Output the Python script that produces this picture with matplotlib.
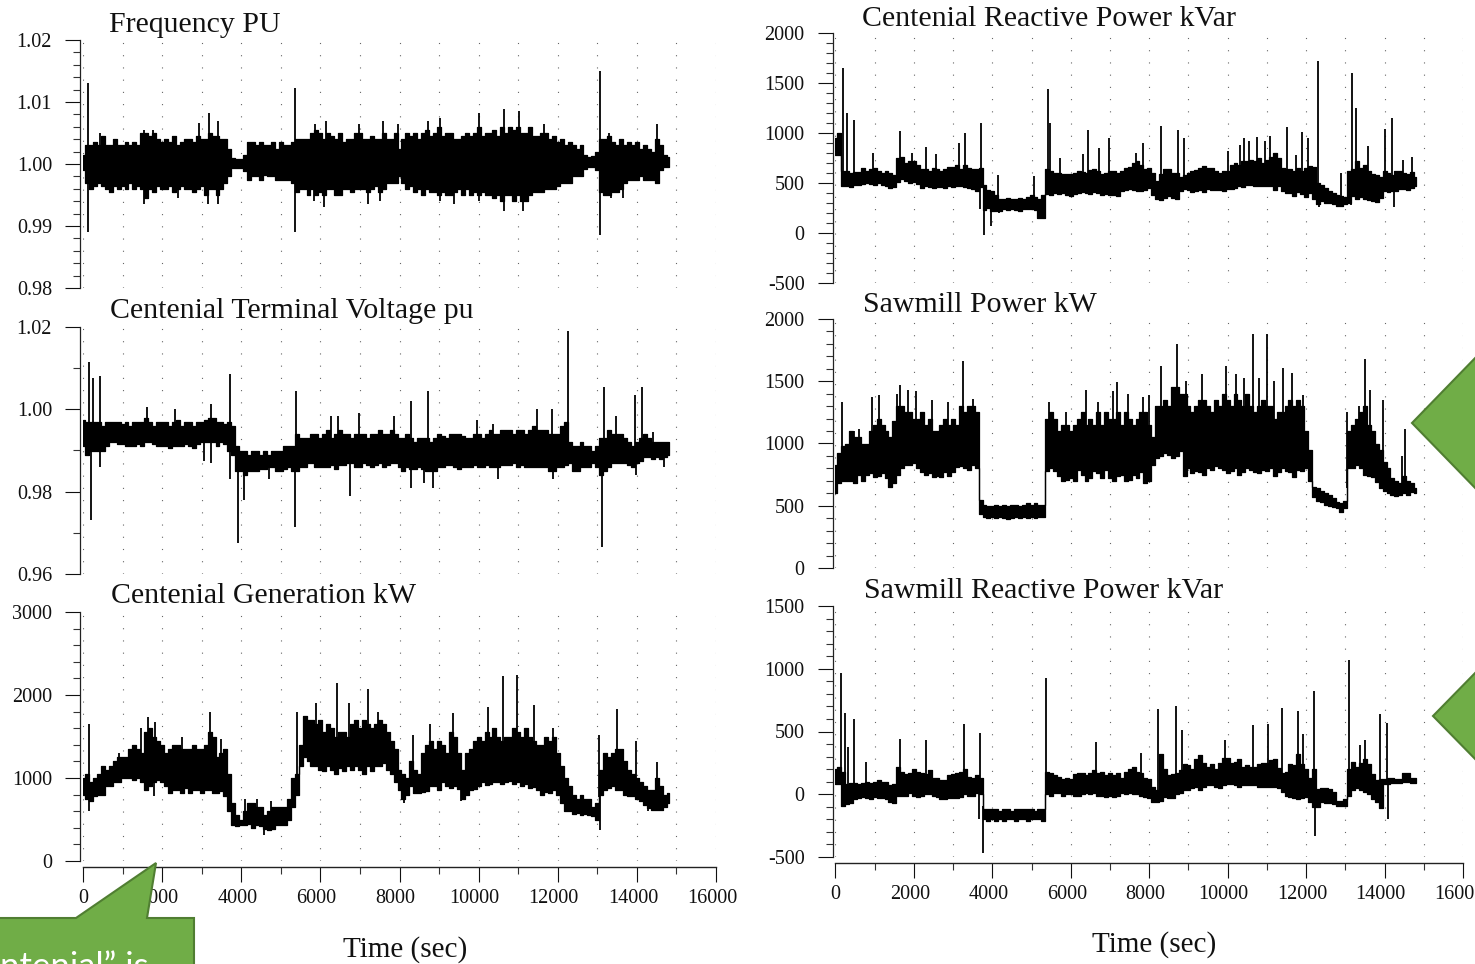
"""Six-panel field recording: frequency, voltage, power traces over time, with slide callouts on top."""
import numpy as np
import matplotlib
matplotlib.use("Agg")
import matplotlib.pyplot as plt
from matplotlib.patches import Polygon
from matplotlib.ticker import MultipleLocator
from matplotlib.transforms import Affine2D, ScaledTranslation

plt.rcParams["font.family"] = ["Liberation Serif", "DejaVu Serif"]

W, H = 1475, 964
INK = "#111111"
GREEN = "#70AD47"; GREEN_EDGE = "#507E32"
SAMPLE_STEP = 100  # band edges below are read every 100 s, ten to a row

# ---- Frequency PU, band edges as thousandths away from 1.00
freq_hi_milli = [1.5, 3, 3, 3.5, 3, 4.5, 3, 3, 4, 3,
                 3, 3.5, 3, 3.5, 3, 5, 5, 4.5, 5, 4,
                 3.5, 4, 3.5, 4.5, 3, 3.5, 4, 4, 3.5, 4.5,
                 4, 4, 5, 4.5, 4.5, 4, 4, 2.5, 1, 0.8,
                 0.8, 1.5, 3.5, 3.5, 3, 3.5, 3, 3, 3.5, 2.5,
                 3.5, 3, 3, 3.5, 4, 4, 4, 4, 5, 5.5,
                 5, 4, 5, 4.5, 4, 5, 3.5, 4, 4, 5,
                 5, 4, 4, 4.5, 4, 4, 5, 4, 4, 5,
                 2.5, 4, 5, 4.5, 5, 4, 5, 5.5, 4.5, 5,
                 6, 4.5, 5, 5, 4, 4, 4.5, 5, 4.5, 5,
                 6, 4.5, 5, 5, 5.5, 4.5, 6, 5, 6, 5.5,
                 6, 5, 5, 6, 4.5, 4.5, 5, 5, 4, 4.5,
                 3.5, 4, 3, 3.5, 3, 2.5, 3, 1.5, 1.2, 1.3,
                 2, 4, 4, 4.5, 3.5, 3, 4, 3, 3.5, 3,
                 3.5, 2.5, 3, 2.5, 2, 4, 3, 1.5, 1.2]
freq_lo_milli = [-1, -3, -4, -3.5, -3, -3.5, -4, -4.5, -3.5, -4,
                 -3.5, -4, -3, -4, -3.5, -4, -5.5, -4, -4.5, -3.5,
                 -4, -4, -3.5, -4.5, -4, -3.5, -4, -4, -4.5, -4,
                 -3.5, -5, -4, -4, -5, -4, -3, -2, -0.7, -0.6,
                 -0.6, -1.2, -2.5, -2, -2, -2.5, -1.8, -2, -2, -2.5,
                 -2.5, -2.5, -2.5, -3, -4.5, -4, -4, -5, -4, -5,
                 -4.5, -5, -4, -4, -5, -5, -4, -4, -4.5, -4,
                 -4, -4, -4.5, -4, -3.5, -4.5, -4, -3, -3, -3,
                 -2, -3, -4, -3.5, -4.5, -4, -5, -4, -4.5, -4.5,
                 -5, -4.5, -5, -5, -4.5, -4, -5, -4, -5, -4.5,
                 -5, -4.5, -5, -5, -5.5, -5, -6, -5, -5, -6,
                 -5, -6, -6, -5, -4.5, -4.5, -4.5, -4, -4, -4,
                 -3.5, -3, -3, -3, -2, -2, -2, -0.8, -0.5, -0.5,
                 -1, -4.5, -5, -5, -4.5, -4.5, -4, -3, -2.5, -2.5,
                 -2.5, -2, -2.5, -2.5, -2.5, -3, -1, -0.5, -0.5]
freq_up_t = [130, 420, 1530, 1770, 2930, 3190, 3400, 5370, 5860, 6150, 6970, 7590, 7960, 8720, 9020, 10000, 10650, 11030, 11650, 13060, 13300, 14500]
freq_up_v = [1.013, 1.005, 1.0055, 1.0055, 1.0066, 1.0083, 1.007, 1.0122, 1.0065, 1.007, 1.0065, 1.007, 1.0065, 1.007, 1.0075, 1.0082, 1.0088, 1.0085, 1.0065, 1.015, 1.005, 1.0065]
freq_dn_t = [130, 1530, 2400, 3170, 3400, 5370, 5850, 6100, 7200, 7500, 9020, 9370, 10010, 10650, 11120, 13060, 13350, 13640]
freq_dn_v = [0.989, 0.9935, 0.9945, 0.9935, 0.9935, 0.989, 0.994, 0.993, 0.9935, 0.994, 0.994, 0.9935, 0.994, 0.9925, 0.9925, 0.9885, 0.9945, 0.9945]

# ---- Centenial Terminal Voltage pu, thousandths away from 1.00
volt_hi_milli = [-2.5, -3, -3, -3, -3, -4, -3, -3, -3, -3,
                 -3.5, -3, -4, -3, -3, -3, -2, -3, -4, -3,
                 -3, -3, -4, -3, -2.5, -4, -3, -3, -4, -3,
                 -3, -2.5, -2, -2, -3, -3, -3.5, -3, -4, -9,
                 -10, -10, -11, -10, -10, -11, -10, -11, -10, -10,
                 -10, -9, -9, -9, -6, -7, -7, -7, -6, -6,
                 -7, -6, -5, -7, -6, -5, -6, -6, -7, -6,
                 -6, -6, -7, -6, -6, -5, -6, -6, -5, -6,
                 -7, -7, -6, -7, -8, -7, -7, -7, -8, -7,
                 -6, -6.5, -7, -6, -6, -6, -6.5, -7, -7, -6,
                 -6, -7, -6, -5, -6, -6, -5, -5, -5, -6,
                 -5, -5, -6, -5, -4, -5, -5, -5, -6, -6,
                 -6, -4, -3, -8, -9, -9, -8, -9, -9, -10,
                 -9, -7, -7, -5, -6, -6, -6, -7, -8, -9,
                 -8, -7, -6, -7, -8, -8, -8, -8, -8]
volt_lo_milli = [-9, -11, -10, -10, -10, -10, -9, -8, -8, -8.5,
                 -8.5, -9, -9, -9, -8.5, -9, -8, -8, -8.5, -9,
                 -9, -9, -9.5, -9, -9, -9, -8.5, -9, -9.5, -8.5,
                 -8, -8, -8, -8, -9, -8, -8.5, -10, -11, -15,
                 -15, -16, -15, -15, -15, -14.5, -14.5, -14, -14, -15,
                 -15, -14.5, -14, -15, -15, -14, -14, -13, -13, -14,
                 -14, -14, -14, -13.5, -14.5, -13.5, -13.5, -13, -13, -14,
                 -14, -13, -13.5, -14, -13.5, -13, -14, -13.5, -13, -13,
                 -14, -15, -14, -14.5, -14.5, -14, -14.5, -15, -15, -15,
                 -14, -14, -13.5, -13.5, -14, -14.5, -14, -14, -14, -13.5,
                 -14, -14, -13.5, -14, -14, -14, -13.5, -13.5, -13.5, -13,
                 -14, -13.5, -14, -14, -14, -14, -14, -14, -15, -15,
                 -14, -14, -13.5, -13, -15, -15, -14, -14, -14, -13,
                 -14, -16, -15, -14, -13, -13, -13, -13, -13.5, -14,
                 -13, -12.5, -11.5, -11.5, -12, -11.5, -12, -11.5, -11]
volt_up_t = [160, 250, 440, 1630, 2330, 3230, 3720, 5390, 6270, 6440, 6970, 7850, 8290, 8720, 9950, 10360, 11470, 11850, 12260, 13170, 13460, 13950, 14140, 14400]
volt_up_v = [1.0115, 1.0075, 1.008, 1.0005, 1.0, 1.0012, 1.0085, 1.0045, 0.9985, 0.9985, 0.999, 0.9985, 1.002, 1.0045, 0.9975, 0.9965, 1.0, 1.0, 1.019, 1.0055, 0.9985, 1.0035, 1.0055, 0.9945]
volt_dn_t = [190, 420, 3050, 3230, 3720, 3930, 4070, 4690, 5360, 6740, 8290, 8610, 8840, 10500, 11880, 13110, 13990, 14690]
volt_dn_v = [0.973, 0.986, 0.9875, 0.987, 0.983, 0.9675, 0.978, 0.983, 0.9715, 0.979, 0.981, 0.982, 0.981, 0.983, 0.983, 0.9665, 0.984, 0.986]

# ---- Centenial Generation kW
gen_hi = [1000, 1050, 950, 1000, 1050, 1150, 1100, 1150, 1200, 1250,
          1250, 1250, 1350, 1400, 1350, 1300, 1550, 1600, 1500, 1450,
          1400, 1300, 1350, 1400, 1400, 1350, 1350, 1350, 1400, 1350,
          1350, 1400, 1550, 1500, 1250, 1300, 1350, 1050, 700, 550,
          500, 600, 700, 700, 650, 650, 550, 600, 650, 650,
          650, 650, 750, 1000, 1050, 1400, 1750, 1700, 1700, 1650,
          1700, 1550, 1650, 1600, 1500, 1550, 1550, 1500, 1650, 1700,
          1600, 1700, 1650, 1600, 1650, 1700, 1650, 1550, 1450, 1350,
          1100, 1050, 1000, 1200, 1100, 1050, 1300, 1400, 1450, 1350,
          1450, 1400, 1300, 1550, 1500, 1300, 1100, 1300, 1350, 1450,
          1500, 1450, 1550, 1500, 1600, 1500, 1450, 1500, 1500, 1600,
          1550, 1500, 1600, 1500, 1450, 1400, 1400, 1500, 1450, 1500,
          1300, 1150, 1000, 900, 800, 750, 800, 750, 750, 650,
          700, 1100, 1300, 1250, 1300, 1350, 1350, 1200, 1100, 1050,
          1000, 950, 900, 850, 850, 1000, 900, 800, 820]
gen_lo = [800, 750, 720, 780, 800, 800, 900, 900, 950, 950,
          1000, 1000, 1000, 980, 1000, 950, 850, 900, 950, 980,
          950, 900, 820, 850, 850, 820, 880, 820, 850, 860,
          820, 850, 860, 820, 820, 840, 780, 600, 430, 420,
          430, 430, 450, 400, 430, 420, 380, 370, 390, 430,
          430, 430, 500, 650, 800, 1150, 1250, 1200, 1150, 1150,
          1100, 1080, 1150, 1100, 1050, 1120, 1080, 1150, 1100, 1150,
          1100, 1050, 1150, 1080, 1150, 1150, 1180, 1100, 1050, 950,
          850, 750, 800, 900, 820, 820, 830, 840, 900, 900,
          860, 950, 900, 880, 900, 870, 750, 800, 850, 870,
          900, 950, 920, 930, 950, 950, 930, 950, 960, 930,
          950, 900, 930, 880, 890, 850, 800, 830, 820, 850,
          800, 700, 600, 600, 570, 580, 560, 570, 560, 540,
          500, 800, 850, 880, 900, 850, 850, 800, 780, 780,
          750, 720, 680, 640, 620, 620, 620, 650, 700]
gen_up_t = [155, 910, 1470, 1650, 1830, 2490, 3200, 3500, 4100, 4400, 4760, 5420, 5900, 6410, 6730, 7210, 7450, 8350, 8770, 9340, 10240, 10620, 10980, 11400, 11880, 13050, 13490, 13970, 14510]
gen_up_v = [1650, 1300, 1600, 1730, 1680, 1500, 1800, 1470, 750, 750, 720, 1800, 1900, 2150, 1900, 2070, 1800, 1520, 1650, 1780, 1850, 2230, 2240, 1880, 1600, 1520, 1830, 1450, 1190]
gen_dn_t = [155, 1800, 4580, 8110, 9550, 13070, 14270]
gen_dn_v = [600, 780, 310, 700, 720, 370, 600]

# ---- Centenial Reactive Power kVar
crp_hi = [950, 1000, 620, 620, 600, 610, 610, 650, 620, 640,
          650, 620, 600, 620, 600, 580, 750, 760, 700, 720,
          720, 680, 640, 640, 620, 650, 640, 620, 640, 660,
          660, 680, 640, 680, 650, 640, 640, 650, 480, 430,
          420, 380, 340, 340, 350, 340, 340, 350, 340, 360,
          380, 360, 340, 380, 640, 620, 600, 600, 590, 590,
          590, 600, 620, 610, 600, 630, 640, 620, 590, 600,
          620, 620, 600, 620, 650, 660, 700, 720, 680, 640,
          650, 600, 520, 590, 640, 640, 600, 600, 560, 580,
          600, 620, 630, 650, 670, 650, 650, 620, 600, 620,
          620, 680, 700, 680, 720, 720, 730, 720, 750, 700,
          730, 760, 800, 750, 650, 640, 640, 620, 650, 620,
          650, 670, 660, 500, 480, 450, 420, 400, 380, 370,
          360, 620, 640, 720, 650, 680, 620, 590, 580, 560,
          620, 600, 580, 620, 620, 600, 590, 610, 560]
crp_lo = [780, 780, 470, 470, 460, 480, 480, 490, 500, 490,
          480, 500, 480, 470, 450, 460, 510, 540, 520, 500,
          510, 490, 450, 470, 460, 450, 460, 460, 450, 470,
          460, 470, 470, 460, 450, 440, 420, 460, 230, 250,
          220, 220, 220, 240, 230, 240, 230, 220, 240, 240,
          240, 230, 150, 150, 390, 380, 400, 390, 400, 380,
          370, 390, 400, 410, 400, 390, 410, 400, 380, 390,
          380, 380, 370, 420, 430, 440, 430, 420, 420, 430,
          450, 380, 340, 330, 350, 370, 350, 340, 420, 440,
          430, 410, 420, 430, 410, 440, 430, 430, 430, 420,
          440, 440, 450, 470, 460, 480, 480, 470, 470, 470,
          470, 470, 430, 470, 420, 400, 400, 370, 410, 390,
          360, 400, 340, 290, 320, 300, 300, 290, 270, 270,
          290, 300, 370, 340, 360, 340, 330, 320, 310, 350,
          420, 410, 420, 420, 440, 440, 430, 450, 470]
crp_up_t = [180, 300, 480, 950, 1640, 1960, 2300, 2560, 3150, 3290, 3720, 4150, 5050, 5410, 5480, 5730, 6300, 6440, 6720, 6980, 7670, 7850, 8300, 8740, 8890, 10010, 10320, 10420, 10550, 10740, 10940, 11090, 11500, 11750, 11890, 12050, 12310, 12880, 13170, 13280, 13590, 14010, 14190, 14470, 14700]
crp_up_v = [1650, 1200, 1130, 800, 1020, 800, 860, 790, 900, 1000, 1100, 580, 570, 1440, 1100, 750, 790, 1030, 850, 950, 800, 900, 1070, 1030, 950, 820, 880, 950, 920, 960, 920, 970, 1060, 780, 1010, 950, 1720, 600, 1600, 1250, 870, 1040, 1150, 730, 760]
crp_dn_t = [3690, 3780, 3960, 4160, 12250, 12330, 13150, 14250]
crp_dn_v = [240, -20, 70, 200, 350, 260, 280, 260]

# ---- Sawmill Power kW
saw_hi = [830, 920, 980, 1000, 1100, 1050, 1050, 1000, 1000, 1100,
          1150, 1200, 1150, 1100, 1050, 1180, 1300, 1300, 1250, 1250,
          1200, 1200, 1250, 1150, 1200, 1100, 1100, 1150, 1200, 1150,
          1200, 1150, 1300, 1250, 1300, 1300, 1250, 550, 510, 500,
          500, 510, 500, 510, 500, 510, 510, 500, 510, 520,
          510, 520, 510, 510, 1200, 1250, 1200, 1100, 1150, 1150,
          1100, 1150, 1200, 1250, 1150, 1200, 1150, 1250, 1150, 1250,
          1200, 1200, 1250, 1150, 1250, 1200, 1150, 1200, 1250, 1250,
          1150, 1050, 1300, 1300, 1350, 1300, 1450, 1450, 1400, 1400,
          1300, 1250, 1300, 1350, 1350, 1300, 1250, 1350, 1300, 1400,
          1350, 1300, 1400, 1350, 1300, 1400, 1300, 1250, 1300, 1350,
          1300, 1300, 1200, 1250, 1250, 1300, 1350, 1300, 1350, 1300,
          1100, 950, 650, 640, 620, 600, 590, 560, 530, 520,
          540, 1100, 1150, 1200, 1250, 1300, 1150, 1100, 1000, 950,
          850, 800, 720, 700, 680, 740, 700, 680, 640]
saw_lo = [600, 680, 700, 700, 700, 680, 750, 700, 750, 760,
          730, 740, 760, 720, 650, 680, 750, 800, 830, 830,
          840, 800, 770, 750, 760, 730, 740, 730, 770, 740,
          770, 810, 820, 800, 790, 830, 800, 430, 410, 400,
          410, 400, 410, 400, 390, 400, 410, 400, 410, 400,
          410, 400, 410, 410, 780, 800, 780, 740, 700, 710,
          720, 700, 790, 750, 700, 720, 780, 760, 720, 790,
          720, 700, 740, 750, 700, 710, 750, 720, 770, 680,
          700, 830, 880, 900, 920, 910, 880, 900, 940, 740,
          800, 760, 780, 770, 750, 800, 790, 820, 800, 790,
          760, 780, 800, 750, 770, 800, 790, 770, 760, 790,
          780, 800, 740, 770, 800, 780, 770, 730, 790, 780,
          800, 700, 570, 540, 530, 510, 500, 490, 480, 450,
          480, 800, 800, 830, 800, 750, 740, 730, 690, 640,
          620, 600, 590, 580, 590, 600, 590, 610, 600]
saw_up_t = [165, 460, 610, 930, 1120, 1560, 1640, 1850, 2060, 2460, 2880, 3240, 3500, 5450, 5880, 6390, 6690, 7080, 7190, 7450, 7840, 8000, 8310, 8710, 8930, 9340, 9950, 10200, 10420, 10640, 10810, 10990, 11170, 11400, 11640, 11930, 13030, 13350, 13500, 13640, 13960, 14450, 14530]
saw_up_v = [1330, 1100, 1120, 1370, 1390, 1400, 1470, 1430, 1420, 1350, 1330, 1660, 1360, 1330, 1250, 1430, 1330, 1420, 1490, 1400, 1370, 1390, 1620, 1800, 1500, 1560, 1620, 1560, 1530, 1880, 1530, 1880, 1500, 1610, 1570, 1390, 1250, 1300, 1680, 1430, 1350, 900, 1120]

# ---- Sawmill Reactive Power kVar
srp_hi = [200, 220, 180, 80, 90, 90, 80, 90, 100, 90,
          100, 110, 100, 100, 70, 80, 220, 180, 160, 170,
          200, 180, 170, 160, 190, 130, 130, 110, 110, 150,
          160, 170, 180, 200, 140, 130, 150, 130, -120, -120,
          -120, -120, -130, -120, -120, -130, -120, -120, -120, -120,
          -120, -130, -120, -120, 180, 170, 150, 140, 120, 130,
          120, 160, 170, 170, 150, 170, 190, 170, 180, 150,
          170, 150, 170, 130, 180, 200, 220, 180, 170, 130,
          120, 60, 30, 320, 200, 150, 160, 170, 190, 240,
          230, 200, 280, 310, 250, 220, 240, 200, 250, 290,
          290, 250, 260, 280, 220, 230, 220, 220, 240, 250,
          250, 270, 280, 210, 170, 180, 240, 230, 320, 240,
          200, 130, 200, 40, 50, 50, 40, 20, -50, -50,
          -40, 200, 260, 220, 250, 280, 240, 160, 110, 120,
          120, 130, 130, 120, 120, 170, 170, 130, 130]
srp_lo = [80, 80, -90, -80, -70, -40, -30, -20, -30, -40,
          -20, -30, -30, -40, -60, -70, -10, -10, -10, 10,
          -10, -20, -10, 0, 0, -10, -20, -40, -40, -30,
          -30, -30, -20, 0, -10, -10, 10, 0, -200, -210,
          -200, -210, -200, -210, -200, -200, -210, -200, -200, -210,
          -200, -200, -200, -210, 0, -10, 10, 10, -10, 0,
          0, -10, -10, 0, 10, 0, 10, -10, -10, -20,
          -10, -20, -10, 10, 0, 10, 0, 0, -10, -20,
          -30, -60, -60, -50, -20, -30, -30, 0, 10, 30,
          30, 50, 60, 30, 60, 70, 70, 60, 50, 70,
          80, 80, 70, 60, 70, 70, 70, 70, 60, 60,
          60, 60, 60, 50, 20, -10, -20, -30, -40, -30,
          -20, -60, -100, -100, -60, -70, -70, -80, -90, -90,
          -90, -10, 30, 50, 30, 20, 0, -40, -60, -110,
          80, 80, 90, 90, 90, 100, 100, 90, 90]
srp_up_t = [140, 235, 330, 470, 770, 1650, 2300, 3270, 3690, 5370, 6640, 7780, 8230, 8680, 8830, 9930, 10640, 11030, 11380, 11790, 11930, 12200, 13090, 13380, 13500, 13890, 14060]
srp_up_v = [970, 650, 380, 600, 260, 440, 430, 560, 490, 930, 420, 330, 680, 700, 510, 430, 550, 560, 690, 660, 480, 820, 1070, 390, 430, 640, 570]
srp_dn_t = [3650, 3770, 12230, 13970, 14100]
srp_dn_v = [-200, -470, -330, -120, -200]

time_ticks = [0, 2000, 4000, 6000, 8000, 10000, 12000, 14000, 16000]


def px_axes(fig, x0, x1, ytop, ybot):
    # axes box given in reference pixels, y measured from the top
    return fig.add_axes([x0 / W, 1 - ybot / H, (x1 - x0) / W, (ybot - ytop) / H])


def draw_trace(ax, lo, hi, up_t, up_v, dn_t, dn_v, ylim, major, minor, fmt):
    lo, hi = np.asarray(lo, float), np.asarray(hi, float)
    t = np.arange(len(hi)) * SAMPLE_STEP
    mid = (lo + hi) / 2
    ax.fill_between(t, lo, hi, step="mid", color="black", lw=0.9)
    ax.vlines(up_t, np.interp(up_t, t, mid), up_v, color="black", lw=1.3)
    ax.vlines(dn_t, dn_v, np.interp(dn_t, t, mid), color="black", lw=1.3)
    ax.set_xlim(0, 16000); ax.set_ylim(*ylim)
    ax.yaxis.set_major_locator(MultipleLocator(major))
    ax.yaxis.set_minor_locator(MultipleLocator(minor))
    ax.yaxis.set_major_formatter(fmt)
    ax.xaxis.set_major_locator(MultipleLocator(1000))
    ax.grid(axis="x", color="#666666", lw=0.8, ls=(0, (1, 10)))
    ax.set_axisbelow(True)
    ax.patch.set_alpha(0)
    for s in ["top", "right", "bottom"]:
        ax.spines[s].set_visible(False)
    ax.spines["left"].set_position(("outward", 2))
    ax.spines["left"].set_linewidth(0.9); ax.spines["left"].set_color("#222222")
    ax.tick_params(axis="y", which="major", length=10.8, width=0.8, pad=9.5, labelsize=14.5, colors=INK)
    ax.tick_params(axis="y", which="minor", length=5, width=0.8, color="#333333")
    ax.tick_params(axis="x", which="both", bottom=False, labelbottom=False)


def time_axis(fig, x0, x1, ybase):
    # separate axis strip: long ticks at 2000s, short at 1000s
    tax = px_axes(fig, x0, x1, ybase - 2, ybase)
    tax.set_xlim(0, 16000); tax.set_yticks([])
    tax.patch.set_alpha(0)
    for s in ["top", "left", "right"]:
        tax.spines[s].set_visible(False)
    tax.spines["bottom"].set_linewidth(1.0); tax.spines["bottom"].set_color("#222222")
    tax.set_xticks(time_ticks)
    tax.set_xticklabels([str(v) for v in time_ticks])
    tax.xaxis.set_minor_locator(MultipleLocator(1000))
    tax.tick_params(axis="x", which="major", length=10.8, width=0.8, pad=5, labelsize=14.5, colors=INK)
    tax.tick_params(axis="x", which="minor", length=5, width=0.8, color="#333333")
    # the scanned labels sit a few pixels left of their ticks, the 0 does not
    shift = ScaledTranslation(-4 / 100, 0, fig.dpi_scale_trans)
    for lab in tax.get_xticklabels()[1:]:
        lab.set_transform(lab.get_transform() + shift)


def fmt2(v, pos=None):
    return f"{v:.2f}"


def fmt0(v, pos=None):
    return f"{v:.0f}"


fig = plt.figure(figsize=(W / 100, H / 100), dpi=100, facecolor="white")

LX0, LX1 = 83, 716
RX0, RX1 = 835.5, 1463

ax = px_axes(fig, LX0, LX1, 40, 288)
draw_trace(ax, 1 + np.array(freq_lo_milli) / 1000, 1 + np.array(freq_hi_milli) / 1000, freq_up_t, freq_up_v, freq_dn_t, freq_dn_v, (0.98, 1.02), 0.01, 0.002, fmt2)
ax = px_axes(fig, LX0, LX1, 327, 574)
draw_trace(ax, 1 + np.array(volt_lo_milli) / 1000, 1 + np.array(volt_hi_milli) / 1000, volt_up_t, volt_up_v, volt_dn_t, volt_dn_v, (0.96, 1.02), 0.02, 0.01, fmt2)
ax = px_axes(fig, LX0, LX1, 612, 861)
draw_trace(ax, gen_lo, gen_hi, gen_up_t, gen_up_v, gen_dn_t, gen_dn_v, (0, 3000), 1000, 200, fmt0)
ax = px_axes(fig, RX0, RX1, 33, 283)
draw_trace(ax, crp_lo, crp_hi, crp_up_t, crp_up_v, crp_dn_t, crp_dn_v, (-500, 2000), 500, 100, fmt0)
ax = px_axes(fig, RX0, RX1, 319, 568)
draw_trace(ax, saw_lo, saw_hi, saw_up_t, saw_up_v, [], [], (0, 2000), 500, 100, fmt0)
ax = px_axes(fig, RX0, RX1, 606, 857)
draw_trace(ax, srp_lo, srp_hi, srp_up_t, srp_up_v, srp_dn_t, srp_dn_v, (-500, 1500), 500, 100, fmt0)

time_axis(fig, LX0, LX1, 867)
time_axis(fig, RX0, RX1, 863)

# panel titles, placed by their left edge in reference pixels
titles = [("Frequency PU", 109, 25), ("Centenial Terminal Voltage pu", 110, 311), ("Centenial Generation kW", 111, 596),
          ("Centenial Reactive Power kVar", 862, 19), ("Sawmill Power kW", 863, 305), ("Sawmill Reactive Power kVar", 864, 591)]
for label, x, y in titles:
    fig.text(x / W, 1 - y / H, label, fontsize=21.5, color=INK, ha="left", va="center")
fig.text(405 / W, 1 - 950 / H, "Time (sec)", fontsize=21, color=INK, ha="center", va="center")
fig.text(1154 / W, 1 - 945 / H, "Time (sec)", fontsize=21, color=INK, ha="center", va="center")

# green slide callouts, cut off by the picture edge
px = Affine2D().scale(1 / W, -1 / H).translate(0, 1) + fig.transFigure
callouts = [
    [(-5, 918), (76, 918), (156, 863), (147, 918), (194, 918), (194, 975), (-5, 975)],
    [(1412, 423), (1480, 353), (1480, 493)],
    [(1433, 716), (1480, 668), (1480, 764)],
]
for pts in callouts:
    fig.add_artist(Polygon(pts, closed=True, facecolor=GREEN, edgecolor=GREEN_EDGE, lw=1.5, transform=px, zorder=10))
fig.text(0, 1 - 977 / H, "ntenial\u201d is", fontsize=25, color="white", family=["Lato", "DejaVu Sans"], ha="left", va="baseline", zorder=11)

fig.savefig("out.png", dpi=100)
